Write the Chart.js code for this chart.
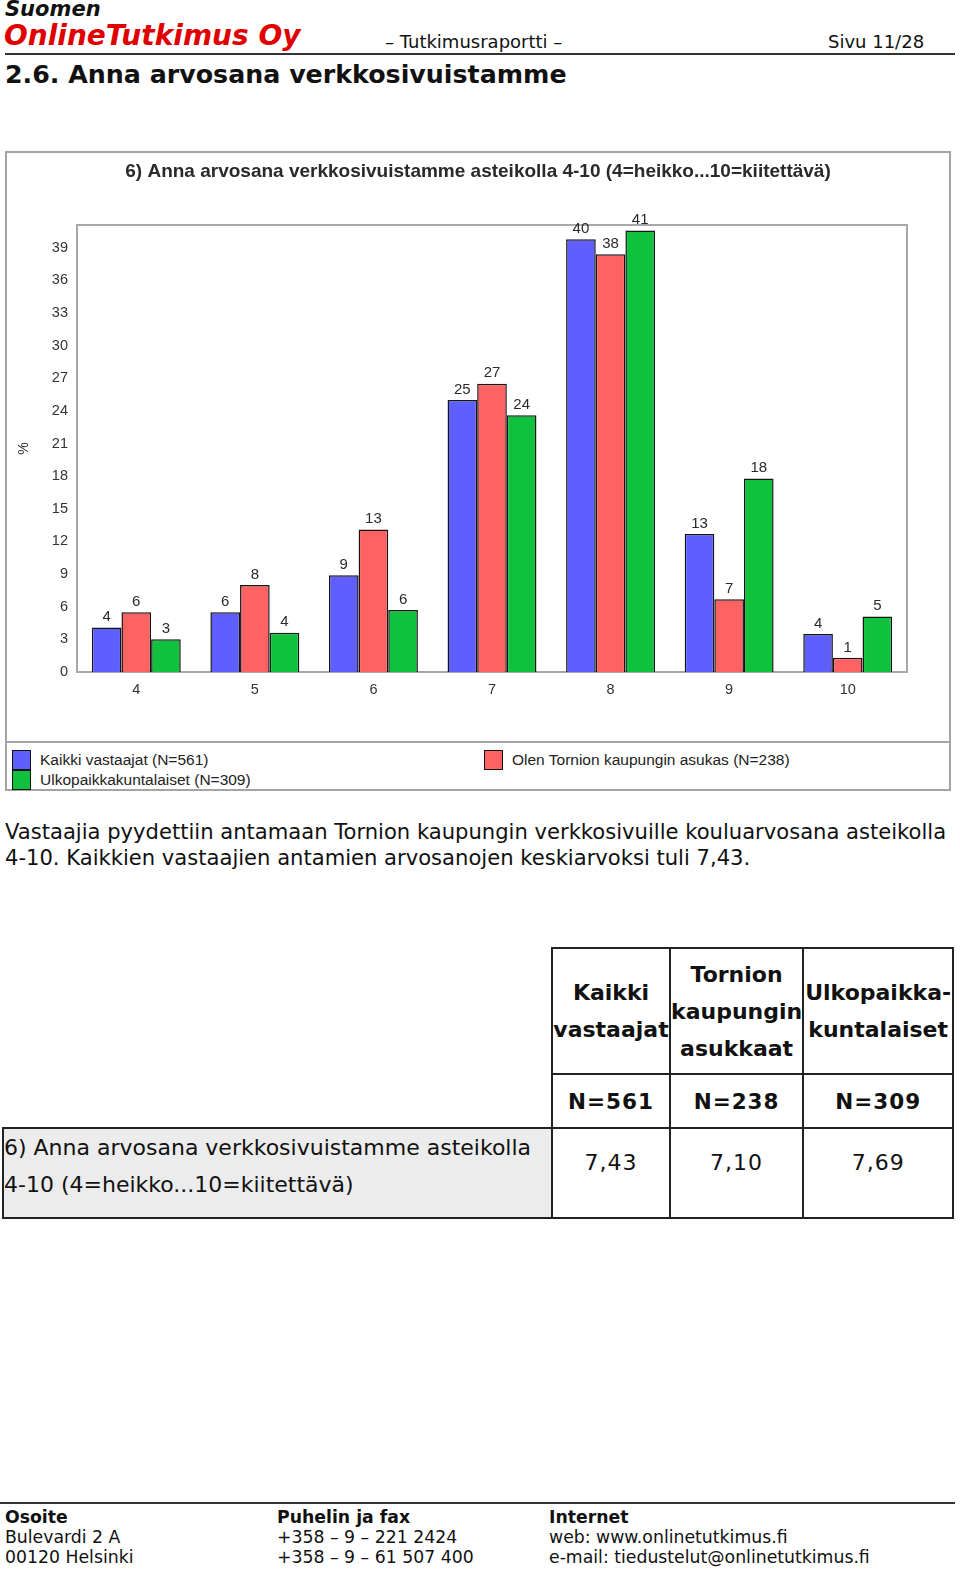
<!DOCTYPE html>
<html>
<head>
<meta charset="utf-8">
<script src="https://cdn.jsdelivr.net/npm/chart.js@4/dist/chart.umd.min.js"></script>
<style>
  html, body { margin: 0; padding: 0; background: #fff; width: 960px; height: 1576px; overflow: hidden; }
  body { position: relative; font-family: "DejaVu Sans", Verdana, sans-serif; color: #111; }
  .abs { position: absolute; white-space: nowrap; }
  #chartBox { position: absolute; left: 5px; top: 151px; width: 942px; height: 636px;
              border: 2px solid #a4a4a4; }
  #chartWrap { position: relative; width: 942px; height: 588px; }
  #legend { position: absolute; left: 0; top: 588px; width: 942px; height: 48px;
            border-top: 2px solid #a4a4a4; box-sizing: border-box;
            display: grid; grid-template-columns: 472px 470px; align-content: start;
            padding-top: 7px; font-family: "Liberation Sans", Arial, sans-serif;
            font-size: 15.5px; color: #222; }
  .lg-item { display: flex; align-items: center; height: 20px; }
  .lg-box { width: 17px; height: 18px; border: 1px solid #111; margin: 0 9px 0 5px; }
  table.res { position: absolute; left: 2px; top: 947px; border-collapse: collapse; }
  table.res td { border: 2px solid #222; text-align: center; padding: 0; }
  .hd { font-weight: bold; font-size: 22px; line-height: 37px; }
  .nn { font-weight: bold; font-size: 21.5px; letter-spacing: 1px; }
  .vv { font-size: 22px; letter-spacing: 1px; vertical-align: top; padding-top: 21px !important; }
</style>
</head>
<body>

<div class="abs" style="left:5px; top:-3px; font-size:21px; font-weight:bold; font-style:italic;">Suomen</div>
<div class="abs" style="left:4px; top:19px; font-size:28px; font-weight:bold; font-style:italic; color:#e00000;">OnlineTutkimus Oy</div>
<div class="abs" style="left:385px; top:31px; font-size:18px;">– Tutkimusraportti –</div>
<div class="abs" style="left:828px; top:31px; font-size:18px;">Sivu 11/28</div>
<div class="abs" style="left:5px; top:53px; width:950px; height:2px; background:#333;"></div>
<div class="abs" style="left:5px; top:60px; font-size:25.3px; font-weight:bold;">2.6. Anna arvosana verkkosivuistamme</div>

<div id="chartBox">
  <div id="chartWrap"><canvas id="chart"></canvas></div>
  <div id="legend"></div>
</div>

<div class="abs" style="left:5px; top:819px; font-size:21.1px; line-height:26px;">Vastaajia pyydettiin antamaan Tornion kaupungin verkkosivuille kouluarvosana asteikolla<br>4-10. Kaikkien vastaajien antamien arvosanojen keskiarvoksi tuli 7,43.</div>

<table class="res">
  <tr style="height:126px;">
    <td style="border:none; border-right:2px solid #222; width:548px;"></td>
    <td class="hd" style="width:116px;">Kaikki<br>vastaajat</td>
    <td class="hd" style="width:131px;">Tornion<br>kaupungin<br>asukkaat</td>
    <td class="hd" style="width:148px;">Ulkopaikka-<br>kuntalaiset</td>
  </tr>
  <tr style="height:54px;">
    <td style="border:none; border-right:2px solid #222; border-bottom:2px solid #222;"></td>
    <td class="nn">N=561</td>
    <td class="nn">N=238</td>
    <td class="nn">N=309</td>
  </tr>
  <tr style="height:90px;">
    <td style="background:#ececec; text-align:left; vertical-align:top; font-size:22px; line-height:37px;">6) Anna arvosana verkkosivuistamme asteikolla<br>4-10 (4=heikko...10=kiitettävä)</td>
    <td class="vv">7,43</td>
    <td class="vv">7,10</td>
    <td class="vv">7,69</td>
  </tr>
</table>

<div class="abs" style="left:0; top:1502px; width:955px; height:2px; background:#333;"></div>
<div class="abs" style="left:5px; top:1507px; font-size:17.3px; line-height:20px;"><b>Osoite</b><br>Bulevardi 2 A<br>00120 Helsinki</div>
<div class="abs" style="left:277px; top:1507px; font-size:17.3px; line-height:20px;"><b>Puhelin ja fax</b><br>+358 – 9 – 221 2424<br>+358 – 9 – 61 507 400</div>
<div class="abs" style="left:549px; top:1507px; font-size:17.3px; line-height:20px;"><b>Internet</b><br>web: www.onlinetutkimus.fi<br>e-mail: tiedustelut@onlinetutkimus.fi</div>

<script>
// grades 4..10, share of respondents (%)
var grades = ['4', '5', '6', '7', '8', '9', '10'];
var seriesNames = ['Kaikki vastaajat (N=561)', 'Olen Tornion kaupungin asukas (N=238)', 'Ulkopaikkakuntalaiset (N=309)'];
var kaikki = [4.1, 5.5, 8.9, 25.0, 39.8, 12.7, 3.5];
var tornio = [5.5, 8.0, 13.1, 26.5, 38.4, 6.7, 1.3];
var ulko = [3.0, 3.6, 5.7, 23.6, 40.6, 17.8, 5.1];
var seriesColors = ['#5f5fff', '#ff6262', '#10c13d'];
var yTicks = [0, 3, 6, 9, 12, 15, 18, 21, 24, 27, 30, 33, 36, 39];

var labelPlugin = {
    id: 'barLabels',
    afterDatasetsDraw: function (chart) {
        var ctx = chart.ctx;
        ctx.save();
        ctx.font = '15px "Liberation Sans", Arial, sans-serif';
        ctx.fillStyle = '#2a2a2a';
        ctx.textAlign = 'center';
        ctx.textBaseline = 'bottom';
        chart.data.datasets.forEach(function (ds, i) {
            chart.getDatasetMeta(i).data.forEach(function (bar, j) {
                ctx.fillText(Math.round(ds.data[j]), bar.x, bar.y - 3);
            });
        });
        ctx.restore();
    }
};

var framePlugin = {
    id: 'plotFrame',
    beforeDatasetsDraw: function (chart) {
        var a = chart.chartArea;
        var ctx = chart.ctx;
        ctx.save();
        ctx.strokeStyle = '#a8a8a8';
        ctx.lineWidth = 2;
        ctx.strokeRect(a.left, a.top, a.right - a.left, a.bottom - a.top);
        ctx.restore();
    }
};

var chart = new Chart(document.getElementById('chart'), {
    type: 'bar',
    data: {
        labels: grades,
        datasets: [kaikki, tornio, ulko].map(function (d, i) {
            return {
                label: seriesNames[i],
                data: d,
                backgroundColor: seriesColors[i],
                borderColor: '#151515',
                borderWidth: 1.5,
                categoryPercentage: 0.75,
                barPercentage: 1.0,
                clip: false
            };
        })
    },
    options: {
        responsive: true,
        maintainAspectRatio: false,
        animation: false,
        layout: { padding: 0 },
        plugins: {
            legend: { display: false },
            tooltip: { enabled: false },
            title: {
                display: true,
                text: '6) Anna arvosana verkkosivuistamme asteikolla 4-10 (4=heikko...10=kiitettävä)',
                color: '#2a2a2a',
                font: { family: '"Liberation Sans", Arial, sans-serif', size: 19, weight: 'bold', lineHeight: 1.2 },
                padding: { top: 7, bottom: 42.2 }
            }
        },
        scales: {
            x: {
                grid: { display: false, drawTicks: false },
                border: { display: false },
                ticks: { color: '#333', padding: 9, font: { family: '"Liberation Sans", Arial, sans-serif', size: 14.5 } },
                afterFit: function (s) { s.height = 69; }
            },
            y: {
                min: 0,
                max: 41.1,
                grid: { display: false, drawTicks: false },
                border: { display: false },
                title: { display: true, text: '%', color: '#333', padding: { top: 9, bottom: 0 },
                         font: { family: '"Liberation Sans", Arial, sans-serif', size: 14 } },
                ticks: { stepSize: 3, color: '#333', padding: 9,
                         font: { family: '"Liberation Sans", Arial, sans-serif', size: 14.5 } },
                afterBuildTicks: function (s) {
                    s.ticks = yTicks.map(function (v) { return { value: v }; });
                },
                afterFit: function (s) { s.width = 70; }
            },
            // empty right-hand axis, only reserves the margin right of the plot
            yRight: {
                position: 'right',
                min: 0,
                max: 41.1,
                grid: { display: false, drawTicks: false },
                border: { display: false },
                ticks: { display: false },
                afterFit: function (s) { s.width = 42; }
            }
        }
    },
    plugins: [framePlugin, labelPlugin]
});

var legendEl = document.getElementById('legend');
chart.data.datasets.forEach(function (ds) {
    var item = document.createElement('div');
    item.className = 'lg-item';
    var box = document.createElement('span');
    box.className = 'lg-box';
    box.style.background = ds.backgroundColor;
    item.appendChild(box);
    item.appendChild(document.createTextNode(ds.label));
    legendEl.appendChild(item);
});
</script>
</body>
</html>
